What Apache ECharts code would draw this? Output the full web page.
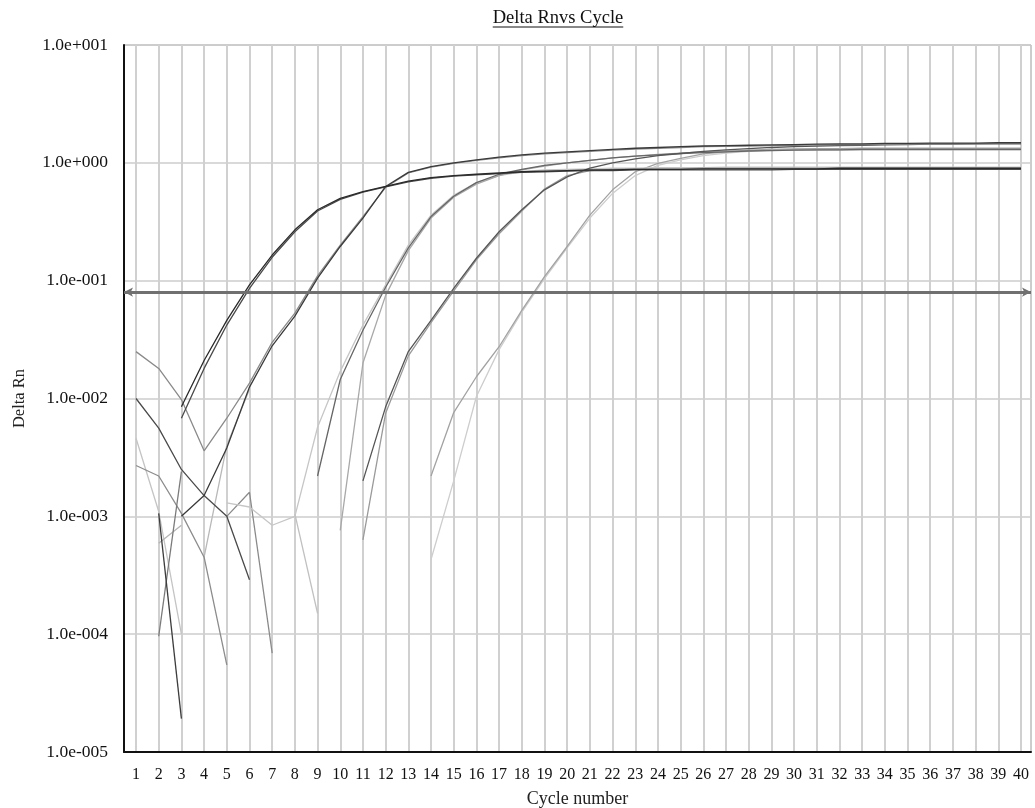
<!DOCTYPE html>
<html>
<head>
<meta charset="utf-8">
<script src="https://cdn.jsdelivr.net/npm/echarts@6/dist/echarts.min.js"></script>
<style>
  html, body { margin: 0; padding: 0; background: #fff; }
  #chart { width: 1035px; height: 808px; }
</style>
</head>
<body>
<div id="chart"></div>
<script>
// ---------------- data ----------------
const cycles = [1,2,3,4,5,6,7,8,9,10,11,12,13,14,15,16,17,18,19,20,
                21,22,23,24,25,26,27,28,29,30,31,32,33,34,35,36,37,38,39,40];
const threshold = 0.082;
const yTickExponents = [-5,-4,-3,-2,-1,0,1];

// amplification curves (Delta Rn per cycle, null = not plotted / <= 0)
const A1 = [null,null,0.0085,0.021,0.046,0.092,0.165,0.27,0.40,0.50,
            0.57,0.63,0.70,0.75,0.78,0.80,0.82,0.84,0.85,0.86,
            0.87,0.87,0.88,0.88,0.88,0.89,0.89,0.89,0.89,0.89,
            0.89,0.90,0.90,0.90,0.90,0.90,0.90,0.90,0.90,0.90];
const A2 = [null,null,0.0068,0.018,0.042,0.086,0.158,0.26,0.39,0.49,
            0.565,0.625,0.69,0.74,0.77,0.79,0.81,0.83,0.84,0.85,
            0.86,0.86,0.87,0.87,0.87,0.87,0.87,0.87,0.87,0.88,
            0.88,0.88,0.88,0.88,0.88,0.88,0.88,0.88,0.88,0.88];
const B1 = [null,null,0.001,0.0015,0.0038,0.0125,0.028,0.05,0.105,0.195,
            0.34,0.63,0.83,0.93,1.00,1.06,1.12,1.17,1.21,1.24,
            1.27,1.30,1.33,1.35,1.37,1.39,1.40,1.41,1.42,1.43,
            1.44,1.45,1.45,1.46,1.46,1.47,1.47,1.47,1.48,1.48];
const B2 = [0.025,0.018,0.0098,0.0036,0.0068,0.0135,0.030,0.053,0.11,0.20,
            0.35,0.62,0.82,0.92,0.99,1.05,1.10,1.15,1.19,1.22,
            1.25,1.28,1.31,1.33,1.35,1.37,1.38,1.39,1.40,1.41,
            1.42,1.43,1.43,1.44,1.44,1.45,1.45,1.45,1.46,1.46];
const C1 = [null,null,null,null,null,null,null,null,0.0022,0.0145,
            0.038,0.088,0.19,0.35,0.52,0.68,0.80,0.88,0.95,1.00,
            1.05,1.10,1.14,1.17,1.20,1.22,1.24,1.26,1.27,1.28,
            1.29,1.29,1.30,1.30,1.30,1.30,1.30,1.30,1.30,1.30];
const C2 = [null,null,null,null,0.0013,0.0012,0.00084,0.001,0.0057,0.017,
            0.042,0.092,0.20,0.36,0.53,0.68,0.78,0.84,0.87,0.88,
            0.89,0.90,0.90,0.91,0.91,0.91,0.92,0.92,0.92,0.92,
            0.92,0.92,0.92,0.92,0.92,0.92,0.92,0.92,0.92,0.92];
const C3 = [null,null,null,null,null,null,null,null,null,0.00076,
            0.020,0.075,0.18,0.34,0.51,0.66,0.78,0.87,0.94,1.00,
            1.05,1.10,1.14,1.18,1.21,1.24,1.26,1.27,1.28,1.29,
            1.29,1.29,1.29,1.29,1.29,1.29,1.29,1.29,1.29,1.29];
const D1 = [null,null,null,null,null,null,null,null,null,null,
            0.002,0.0085,0.025,0.046,0.086,0.155,0.26,0.40,0.59,0.76,
            0.90,1.00,1.08,1.15,1.20,1.25,1.29,1.32,1.35,1.37,
            1.39,1.40,1.41,1.42,1.43,1.44,1.44,1.45,1.45,1.45];
const D2 = [null,null,null,null,null,null,null,null,null,null,
            0.00063,0.0075,0.023,0.044,0.082,0.15,0.25,0.39,0.60,0.78,
            0.86,0.88,0.89,0.89,0.89,0.90,0.90,0.90,0.90,0.90,
            0.90,0.90,0.90,0.90,0.90,0.90,0.90,0.90,0.90,0.90];
const E1 = [null,null,null,null,null,null,null,null,null,null,
            null,null,null,0.0022,0.0076,0.0153,0.0275,0.056,0.108,0.195,
            0.36,0.59,0.84,0.99,1.09,1.19,1.24,1.28,1.30,1.31,
            1.32,1.32,1.33,1.33,1.33,1.33,1.33,1.33,1.33,1.33];
const E2 = [null,null,null,null,null,null,null,null,null,null,
            null,null,null,0.00043,0.002,0.0104,0.026,0.054,0.104,0.19,
            0.34,0.55,0.78,0.95,1.06,1.15,1.21,1.25,1.28,1.29,
            1.29,1.30,1.30,1.30,1.30,1.30,1.30,1.30,1.30,1.30];

// baseline noise fragments (cycles 1-9)
const N1 = [0.01,0.0056,0.0025,0.0015,0.001,0.00029,null,null,null];
const N2 = [0.0046,0.0011,0.0001,null,null,null,null,null,null];
const N3 = [0.0027,0.0022,0.00106,0.00045,0.000055,null,null,null,null];
const N4 = [null,0.00106,0.0000192,null,null,null,null,null,null];
const N5 = [null,0.000096,0.0024,null,null,null,null,null,null];
const N6 = [null,0.00059,0.00084,null,null,null,null,null,null];
const N7 = [null,null,null,0.00045,0.0040,0.012,null,null,null];
const N8 = [null,null,null,null,null,null,null,0.00105,0.00015];
const N9 = [null,null,null,null,0.001,0.0016,0.000069,null,null];

// ---------------- chart ----------------
const FONT = '"Liberation Serif", "Times New Roman", serif';

const curves = [
  {v: N2, c: '#c4c4c4'}, {v: N6, c: '#b4b4b4'}, {v: N7, c: '#b8b8b8'}, {v: N8, c: '#c0c0c0'},
  {v: N3, c: '#8c8c8c'}, {v: N9, c: '#8a8a8a'}, {v: N5, c: '#7a7a7a'},
  {v: N1, c: '#4a4a4a'}, {v: N4, c: '#3c3c3c'},
  {v: E2, c: '#cdcdcd'}, {v: E1, c: '#a2a2a2'},
  {v: C2, c: '#c6c6c6'}, {v: C3, c: '#a8a8a8'}, {v: D2, c: '#9a9a9a'},
  {v: C1, c: '#666666'}, {v: D1, c: '#555555'},
  {v: B2, c: '#8a8a8a'}, {v: B1, c: '#3a3a3a'},
  {v: A2, c: '#4a4a4a'}, {v: A1, c: '#2a2a2a'}
];

const series = curves.map(s => ({
  type: 'line',
  data: s.v.map((val, i) => [cycles[i], val]),
  showSymbol: false,
  symbol: 'none',
  connectNulls: false,
  lineStyle: { color: s.c, width: 1.3 },
  z: 3
}));

series.push({
  type: 'line',
  data: [],
  markLine: {
    silent: true,
    symbol: ['arrow', 'arrow'],
    symbolSize: [7, 9],
    label: { show: false },
    lineStyle: { color: '#707070', width: 3, type: 'solid' },
    data: [{ yAxis: threshold }]
  },
  z: 4
});

function fmtExp(v) {
  const e = Math.round(Math.log10(v));
  return '1.0e' + (e < 0 ? '-' : '+') + String(Math.abs(e)).padStart(3, '0');
}

const chart = echarts.init(document.getElementById('chart'));

// title text measurement for underline
const titleText = 'Delta Rnvs Cycle';
const titleFont = '18.5px "Liberation Serif"';
const ctx = document.createElement('canvas').getContext('2d');
ctx.font = titleFont;
const tw = ctx.measureText(titleText).width;
const titleX = 558, titleY = 18;

chart.setOption({
  animation: false,
  backgroundColor: '#ffffff',
  grid: { left: 124, right: 4, top: 45, bottom: 56, show: true, borderColor: '#9a9a9a', borderWidth: 1,
          containLabel: false, outerBoundsMode: 'none' },
  xAxis: {
    type: 'value',
    min: 0.47,
    max: 40.44,
    name: 'Cycle number',
    nameLocation: 'middle',
    nameGap: 38,
    nameTextStyle: { fontFamily: FONT, fontSize: 18, color: '#222' },
    axisLine: { show: true, onZero: false, lineStyle: { color: '#111', width: 2 } },
    axisTick: { show: false, customValues: cycles },
    axisLabel: { customValues: cycles, fontFamily: FONT, fontSize: 16, color: '#111', margin: 15 },
    splitLine: { show: true, lineStyle: { color: '#d0d0d0', width: 2 } }
  },
  yAxis: {
    type: 'log',
    logBase: 10,
    min: Math.pow(10, yTickExponents[0]),
    max: Math.pow(10, yTickExponents[yTickExponents.length - 1]),
    interval: 1,
    name: 'Delta Rn',
    nameLocation: 'middle',
    nameGap: 96,
    nameRotate: 90,
    nameTextStyle: { fontFamily: FONT, fontSize: 16.5, color: '#222' },
    axisLine: { show: true, lineStyle: { color: '#111', width: 2 } },
    axisTick: { show: false },
    axisLabel: { formatter: fmtExp, fontFamily: FONT, fontSize: 17.5, color: '#111', margin: 16 },
    splitLine: { show: true, lineStyle: { color: '#cccccc', width: 1.5 } }
  },
  graphic: [
    { type: 'text', x: titleX, y: titleY,
      style: { text: titleText, font: titleFont, fill: '#111', textAlign: 'center', textVerticalAlign: 'middle' } },
    { type: 'line', shape: { x1: titleX - tw / 2, y1: titleY + 9, x2: titleX + tw / 2, y2: titleY + 9 },
      style: { stroke: '#111', lineWidth: 1 } }
  ],
  series: series
});
</script>
</body>
</html>
